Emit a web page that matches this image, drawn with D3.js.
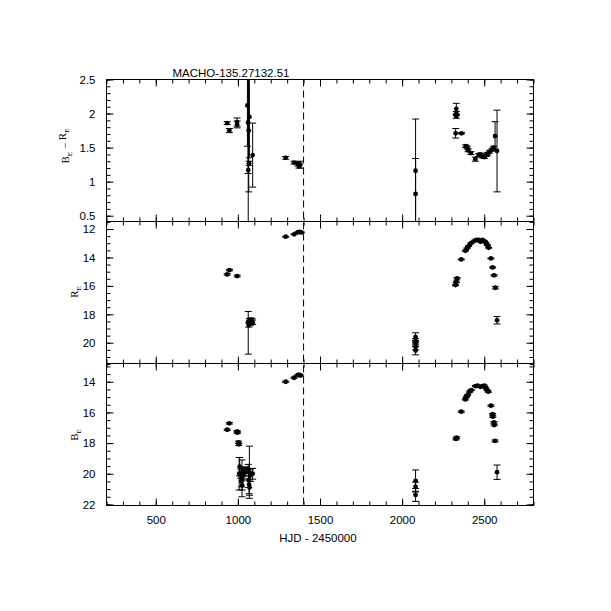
<!DOCTYPE html>
<html><head><meta charset="utf-8">
<script src="https://cdn.jsdelivr.net/npm/d3@7"></script>
<style>body{margin:0;background:#fff}</style>
</head><body><svg id="c" width="611" height="611"></svg>
<script>
const chartTitle = "MACHO-135.27132.51";
const xLabel = "HJD - 2450000";
const xMajorTicks = [500, 1000, 1500, 2000, 2500];
const colorTicks = [0.5, 1, 1.5, 2, 2.5];
const rTicks = [12, 14, 16, 18, 20];
const bTicks = [14, 16, 18, 20, 22];
const eventHJD = 1400;

// [HJD - 2450000, value, error (lower), optional error (upper)]
const colorData = [
  [935,1.86,0.02],[948,1.75,0.03],[995,1.875,0.06],[995,1.84,0.05],
  [1058,2.12,0.6],[1062,1.87,0.75],[1066,1.75,0.9],[1070,1.95,0.6],
  [1063,1.17,1.5],[1068,1.27,0.03],[1090,1.39,0.47],
  [1291,1.35,0.02],[1342,1.28,0.02],[1365,1.26,0.03],[1372,1.23,0.03],[1380,1.25,0.05],
  [2082,1.16,0.76],[2082,0.82,0.52],
  [2330,2.07,0.08],[2330,2.0,0.03],[2330,1.96,0.03],[2326,1.71,0.07],[2362,1.71,0.01],
  [2387,1.52,0.02],[2397,1.50,0.02],[2402,1.46,0.02],[2419,1.42,0.02],[2446,1.33,0.03],
  [2466,1.39,0.02],[2476,1.40,0.02],[2487,1.37,0.02],[2501,1.36,0.02],[2513,1.39,0.02],
  [2521,1.41,0.02],[2533,1.44,0.02],[2548,1.47,0.02],[2557,1.50,0.02],
  [2566,1.67,0.21],[2578,1.45,0.6]
];
const rData = [
  [935,15.19,0.05],[949,14.89,0.05],[996,15.31,0.06],
  [1063,18.55,0.75,2.25],[1066,18.75,0.15],[1070,18.45,0.15],[1075,18.6,0.2],[1080,18.4,0.15],
  [1085,18.5,0.2],[1090,18.55,0.15],
  [1291,12.54,0.03],[1342,12.37,0.03],[1366,12.22,0.03],[1378,12.21,0.03],[1386,12.24,0.03],
  [2082,19.6,0.3],[2082,19.85,0.15],[2082,20.05,0.2],[2082,20.3,0.2],[2082,20.55,0.3],
  [2325,15.94,0.05],[2330,15.71,0.05],[2335,15.47,0.05],[2360,14.14,0.03],
  [2385,13.53,0.03],[2395,13.36,0.03],[2405,13.2,0.03],[2419,13.0,0.03],
  [2441,12.82,0.03],[2453,12.77,0.03],[2467,12.77,0.03],[2478,12.89,0.03],[2490,12.77,0.03],
  [2500,12.85,0.03],[2510,12.96,0.03],[2519,13.13,0.03],[2527,13.32,0.03],
  [2541,14.07,0.03],[2551,14.7,0.04],[2560,15.26,0.05],[2568,16.13,0.08],[2578,18.42,0.26]
];
const bData = [
  [935,17.13,0.05],[948,16.71,0.05],[995,17.23,0.05],[997,17.32,0.05],
  [1004,17.95,0.08],[1006,18.08,0.08],[1011,19.54,0.6],[1008,20.0,1.06],
  [1018,20.0,0.3],[1022,20.5,0.35],[1026,20.76,0.3],[1030,19.9,0.3],[1036,20.0,0.35],
  [1042,19.85,0.3],[1025,20.3,1.2],[1063,19.69,0.3],[1070,19.9,1.7],[1065,20.4,0.5],
  [1068,20.7,0.6],[1071,20.9,0.5],[1076,20.1,0.4],[1090,20.0,0.35],
  [1291,14.0,0.04],[1342,13.74,0.04],[1366,13.56,0.04],[1375,13.55,0.04],[1382,13.6,0.04],
  [2082,20.47,0.72],[2082,20.84,0.3],[2082,21.38,0.42],
  [2328,17.73,0.06],[2332,17.65,0.06],[2360,15.95,0.04],
  [2385,15.15,0.04],[2391,14.98,0.04],[2399,14.87,0.04],[2411,14.65,0.04],[2421,14.54,0.04],
  [2446,14.28,0.04],[2460,14.26,0.04],[2476,14.33,0.04],[2490,14.28,0.04],[2501,14.26,0.04],
  [2509,14.39,0.04],[2517,14.54,0.04],[2525,14.65,0.04],
  [2541,15.56,0.05],[2551,16.12,0.05],[2552,16.28,0.05],[2559,16.65,0.05],[2561,16.82,0.05],
  [2566,17.86,0.06],[2578,19.9,0.47]
];

const svg = d3.select("#c");
const x = d3.scaleLinear().domain([200, 2800]).range([106.5, 533.5]);
const xMinor = d3.range(200, 2801, 100);

const panels = [
  {data: colorData, domain: [0.415, 2.5], range: [221.5, 79.5], ticks: colorTicks,
   minor: d3.range(5, 26).map(d => d / 10), label: ["B","E"," − ","R","E"], lx: 69, ly: 146},
  {data: rData, domain: [11.47, 21.46], range: [221.5, 363.5], ticks: rTicks,
   minor: d3.range(23, 44).map(d => d / 2), label: ["R","E"], lx: 78, ly: 292},
  {data: bData, domain: [12.81, 22.07], range: [363.5, 505.5], ticks: bTicks,
   minor: d3.range(26, 45).map(d => d / 2), label: ["B","E"], lx: 78, ly: 435}
];

const fmt = d3.format("~g");
const font = "'Liberation Sans', Arial, sans-serif";
const lo = d => d[1] - d[2];
const hi = d => d[1] + (d.length > 3 ? d[3] : d[2]);

panels.forEach((p, i) => {
  const y = d3.scaleLinear().domain(p.domain).range(p.range);
  const top = Math.min(...p.range), bot = Math.max(...p.range);
  const g = svg.append("g");
  const clipId = "clip" + i;
  svg.append("clipPath").attr("id", clipId).append("rect")
    .attr("x", 106.5).attr("y", top).attr("width", 427).attr("height", bot - top);

  const isLast = i === panels.length - 1;
  const addAxis = (axis, tx, ty, labels) => {
    const a = g.append("g").attr("transform", `translate(${tx},${ty})`).call(axis);
    a.select(".domain").remove();
    a.selectAll("line").attr("stroke", "#000");
    if (!labels) a.selectAll("text").remove();
    else a.selectAll("text").attr("font-family", font).attr("font-size", 11.5).attr("fill", "#000");
    return a;
  };
  addAxis(d3.axisBottom(x).tickValues(xMajorTicks).tickSize(-7).tickPadding(10).tickFormat(fmt), 0, bot, isLast);
  addAxis(d3.axisBottom(x).tickValues(xMinor).tickSize(-4), 0, bot, false);
  addAxis(d3.axisTop(x).tickValues(xMajorTicks).tickSize(-7), 0, top, false);
  addAxis(d3.axisTop(x).tickValues(xMinor).tickSize(-4), 0, top, false);
  addAxis(d3.axisLeft(y).tickValues(p.ticks).tickSize(-7).tickPadding(11).tickFormat(fmt), 106.5, 0, true);
  addAxis(d3.axisLeft(y).tickValues(p.minor).tickSize(-4), 106.5, 0, false);
  addAxis(d3.axisRight(y).tickValues(p.ticks).tickSize(-7), 533.5, 0, false);
  addAxis(d3.axisRight(y).tickValues(p.minor).tickSize(-4), 533.5, 0, false);

  g.append("rect").attr("x", 106.5).attr("y", top).attr("width", 427).attr("height", bot - top)
    .attr("fill", "none").attr("stroke", "#000").attr("stroke-width", 1);

  const dg = g.append("g").attr("clip-path", `url(#${clipId})`);
  dg.selectAll("line.eb").data(p.data).join("line").attr("class", "eb")
    .attr("x1", d => x(d[0])).attr("x2", d => x(d[0]))
    .attr("y1", d => y(lo(d))).attr("y2", d => y(hi(d)))
    .attr("stroke", "#000").attr("stroke-width", 1);
  dg.selectAll("line.cap1").data(p.data).join("line").attr("class", "cap1")
    .attr("x1", d => x(d[0]) - 3.5).attr("x2", d => x(d[0]) + 3.5)
    .attr("y1", d => y(lo(d))).attr("y2", d => y(lo(d)))
    .attr("stroke", "#000").attr("stroke-width", 1);
  dg.selectAll("line.cap2").data(p.data).join("line").attr("class", "cap2")
    .attr("x1", d => x(d[0]) - 3.5).attr("x2", d => x(d[0]) + 3.5)
    .attr("y1", d => y(hi(d))).attr("y2", d => y(hi(d)))
    .attr("stroke", "#000").attr("stroke-width", 1);
  dg.selectAll("circle").data(p.data).join("circle")
    .attr("cx", d => x(d[0])).attr("cy", d => y(d[1])).attr("r", 2.4).attr("fill", "#000");

  const t = svg.append("text").attr("transform", `translate(${p.lx},${p.ly}) rotate(-90)`)
    .attr("text-anchor", "middle").attr("font-family", "'Liberation Serif', 'DejaVu Serif', serif")
    .attr("font-size", 11).attr("fill", "#000");
  p.label.forEach((s, k) => {
    const sub = s === "E";
    t.append("tspan").text(s).attr("font-size", sub ? 7 : 11)
      .attr("dy", sub ? 3 : (k > 0 ? -3 : 0));
  });
});

svg.append("line").attr("x1", x(eventHJD)).attr("x2", x(eventHJD))
  .attr("y1", 79.5).attr("y2", 505.5).attr("stroke", "#000").attr("stroke-width", 1)
  .attr("stroke-dasharray", "7,4");

svg.append("text").attr("x", 231).attr("y", 76.5).attr("text-anchor", "middle")
  .attr("font-family", font).attr("font-size", 11.5).text(chartTitle);
svg.append("text").attr("x", 318).attr("y", 542).attr("text-anchor", "middle")
  .attr("font-family", font).attr("font-size", 11.5).text(xLabel);
</script></body></html>
